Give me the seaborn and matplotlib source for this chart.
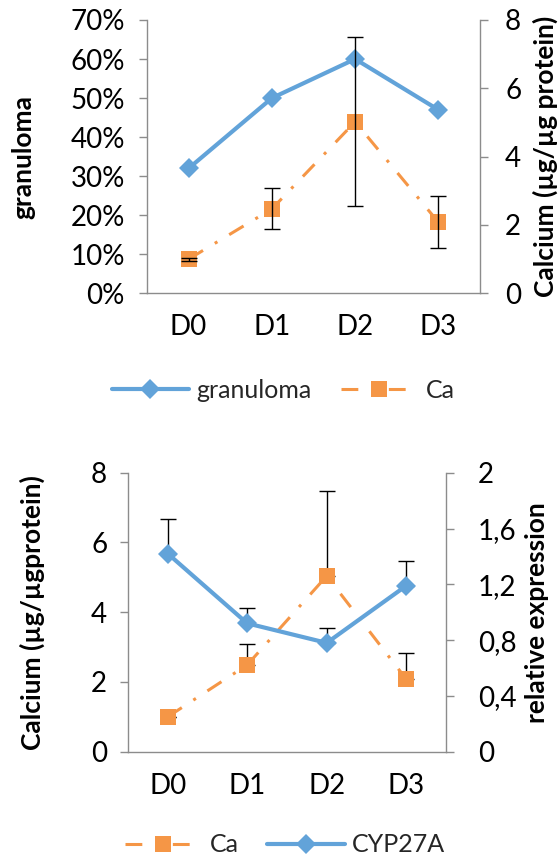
import matplotlib
matplotlib.use('Agg')
import matplotlib.pyplot as plt
import seaborn as sns
import pandas as pd
import numpy as np
from matplotlib.ticker import FixedLocator, FuncFormatter
from matplotlib.lines import Line2D

# ---------------- data ----------------
days = ['D0', 'D1', 'D2', 'D3']
granuloma = [0.32, 0.50, 0.60, 0.47]
ca_top = [1.0, 2.47, 5.02, 2.08]
ca_top_err = [0.04, 0.60, 2.47, 0.76]
ca_bottom = [1.0, 2.49, 5.04, 2.08]
ca_bottom_err = [0.0, 0.60, 2.43, 0.76]
cyp27a = [1.42, 0.92, 0.78, 1.19]
cyp27a_err = [0.25, 0.11, 0.11, 0.18]

left_top_ticks = [0, 0.1, 0.2, 0.3, 0.4, 0.5, 0.6, 0.7]
right_top_ticks = [0, 2, 4, 6, 8]
left_bot_ticks = [0, 2, 4, 6, 8]
right_bot_ticks = [0, 0.4, 0.8, 1.2, 1.6, 2.0]

df = pd.DataFrame({'day': days, 'granuloma': granuloma, 'ca_top': ca_top,
                   'ca_bottom': ca_bottom, 'cyp27a': cyp27a})

# ---------------- style ----------------
sns.set_theme(style='white')
plt.rcParams['font.family'] = ['Lato', 'DejaVu Sans']
FS = 20
LFS = 19
LEGFS = 18
BLUE = '#62A3D9'
ORANGE = '#F59646'
GRAY = '#8C8C8C'
DASH = (0, (5.5, 4.5, 1.0, 4.5))

fig = plt.figure(figsize=(5.6, 8.57), dpi=100)
W, H = 560, 857


def px_axes(l, t, r, b):
    return fig.add_axes([l / W, 1 - b / H, (r - l) / W, (b - t) / H])


def style_axes(ax, ax2, lpad, rpad):
    ax.set_xlim(-0.5, 3.5)
    for a in (ax, ax2):
        a.set_facecolor('none')
        a.spines['top'].set_visible(False)
        for s in a.spines.values():
            s.set_color(GRAY)
            s.set_linewidth(1)
        a.grid(False)
    ax.spines['right'].set_visible(False)
    ax2.spines['left'].set_visible(False)
    ax2.spines['bottom'].set_visible(False)
    ax.xaxis.set_major_locator(FixedLocator([0, 1, 2, 3]))
    ax.set_xticklabels(days)
    ax.xaxis.set_minor_locator(FixedLocator([-0.5, 0.5, 1.5, 2.5, 3.5]))
    ax.tick_params(axis='x', which='major', length=0, pad=15, labelsize=FS, colors='black')
    ax.tick_params(axis='x', which='minor', length=6, width=1, color=GRAY, direction='out')
    ax.tick_params(axis='y', which='major', left=True, length=6, width=1, color=GRAY,
                   direction='out', pad=lpad, labelsize=FS, labelcolor='black')
    ax2.tick_params(axis='y', which='major', right=True, length=6, width=1, color=GRAY,
                    direction='out', pad=rpad, labelsize=FS, labelcolor='black')
    ax.set_xlabel('')


# ================= top chart =================
ax1 = px_axes(147, 20, 480, 293.3)
ax1b = ax1.twinx()

sns.lineplot(data=df, x='day', y='granuloma', ax=ax1, color=BLUE, linewidth=3,
             marker='D', markersize=10, markeredgewidth=0, sort=False)
sns.lineplot(data=df, x='day', y='ca_top', ax=ax1b, color=ORANGE, linewidth=2.2,
             marker='s', markersize=11, markeredgewidth=0, sort=False)
ax1b.lines[0].set_linestyle(DASH)
ax1b.errorbar(days, ca_top, yerr=ca_top_err, fmt='none', ecolor='black',
              elinewidth=1, capsize=5.5, capthick=1, zorder=5)

ax1.set_ylim(0, 0.7)
ax1.yaxis.set_major_locator(FixedLocator(left_top_ticks))
ax1.yaxis.set_major_formatter(FuncFormatter(lambda v, p: f'{v*100:.0f}%'))
ax1b.set_ylim(0, 8)
ax1b.yaxis.set_major_locator(FixedLocator(right_top_ticks))
style_axes(ax1, ax1b, 10, 12)

ax1.set_ylabel('granuloma', fontsize=LFS, fontweight='bold', color='black')
ax1.yaxis.set_label_coords(-0.371, 0.5)
ax1.yaxis.label.set_va('center')
ax1b.set_ylabel('Calcium (µg/µg protein)', fontsize=LFS, fontweight='bold', color='black')
ax1b.yaxis.set_label_coords(1.195, 0.5)
ax1b.yaxis.label.set_va('center')

h_gran = Line2D([], [], color=BLUE, linewidth=3, marker='D', markersize=10, markeredgewidth=0)
h_ca = Line2D([], [], color=ORANGE, linewidth=2.2, linestyle=DASH, marker='s',
              markersize=11, markeredgewidth=0)
fig.legend([h_gran, h_ca], ['granuloma', 'Ca'], loc='center',
           bbox_to_anchor=(283 / W, 1 - 390 / H), ncol=2, frameon=False,
           fontsize=LEGFS, handlelength=3.1, handletextpad=0.3, columnspacing=1.15)

# ================= bottom chart =================
ax2 = px_axes(128, 472.7, 446, 751.7)
ax2b = ax2.twinx()

sns.lineplot(data=df, x='day', y='ca_bottom', ax=ax2, color=ORANGE, linewidth=2.2,
             marker='s', markersize=11, markeredgewidth=0, sort=False)
ax2.lines[0].set_linestyle(DASH)
ax2.errorbar(days, ca_bottom, yerr=[np.zeros(4), ca_bottom_err], fmt='none',
             ecolor='black', elinewidth=1, capsize=5.5, capthick=1, zorder=1)
sns.lineplot(data=df, x='day', y='cyp27a', ax=ax2b, color=BLUE, linewidth=3,
             marker='D', markersize=10, markeredgewidth=0, sort=False)
ax2b.errorbar(days, cyp27a, yerr=[np.zeros(4), cyp27a_err], fmt='none',
              ecolor='black', elinewidth=1, capsize=5.5, capthick=1, zorder=1)

ax2.set_ylim(0, 8)
ax2.yaxis.set_major_locator(FixedLocator(left_bot_ticks))
ax2b.set_ylim(0, 2)
ax2b.yaxis.set_major_locator(FixedLocator(right_bot_ticks))
ax2b.yaxis.set_major_formatter(FuncFormatter(
    lambda v, p: ('%g' % round(v, 1)).replace('.', ',')))
style_axes(ax2, ax2b, 9, 17)

ax2.set_ylabel('Calcium (µg/µgprotein)', fontsize=LFS, fontweight='bold', color='black')
ax2.yaxis.set_label_coords(-0.30, 0.5)
ax2.yaxis.label.set_va('center')
ax2b.set_ylabel('relative expression', fontsize=LFS, fontweight='bold', color='black')
ax2b.yaxis.set_label_coords(1.285, 0.5)
ax2b.yaxis.label.set_va('center')

h_ca2 = Line2D([], [], color=ORANGE, linewidth=2.2, linestyle=DASH, marker='s',
               markersize=11, markeredgewidth=0)
h_cyp = Line2D([], [], color=BLUE, linewidth=3, marker='D', markersize=10, markeredgewidth=0)
fig.legend([h_ca2, h_cyp], ['Ca', 'CYP27A'], loc='center',
           bbox_to_anchor=(285 / W, 1 - 845 / H), ncol=2, frameon=False,
           fontsize=LEGFS, handlelength=3.1, handletextpad=0.3, columnspacing=1.15)

fig.savefig('out.png', dpi=100)
